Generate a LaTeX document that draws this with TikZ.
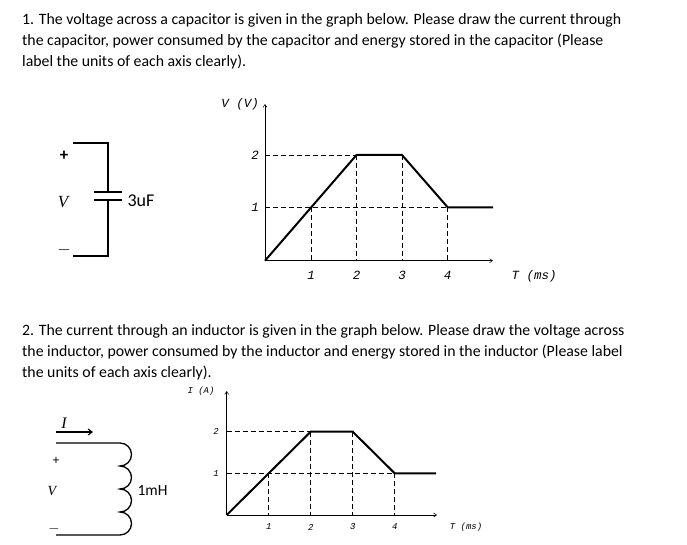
\documentclass[tikz,border=0pt]{standalone}
\usepackage{fontspec}
\usetikzlibrary{arrows.meta}
\setmainfont{Carlito}
\newfontfamily\monoit{Liberation Mono}
\newfontfamily\serif{Liberation Serif}
\begin{document}
\begin{tikzpicture}[x=1pt,y=-1pt,
  para/.style={anchor=base west,inner sep=0,font=\fontsize{15.8}{17}\selectfont},
  ax/.style={line width=0.5pt,-{Straight Barb[length=3pt,width=4pt]}},
  guide/.style={line width=0.5pt,dash pattern=on 5pt off 3pt},
  curve/.style={line width=2pt},
  wire/.style={line width=1.3pt},
  lab/.style={font=\monoit\itshape\fontsize{12.5}{13}\selectfont,inner sep=0},
  labs/.style={font=\monoit\itshape\fontsize{9}{10}\selectfont,inner sep=0}]
\useasboundingbox (0,0) rectangle (687,545);
\node[para] (t1) at (22,25) {1. The voltage across a capacitor is given in the graph below. Please draw the current through};
\node[para] (t2) at (22,46) {the capacitor, power consumed by the capacitor and energy stored in the capacitor (Please};
\node[para] (t3) at (22,67) {label the units of each axis clearly).};
\node[para] (t4) at (22,335) {2. The current through an inductor is given in the graph below. Please draw the voltage across};
\node[para] (t5) at (22,356) {the inductor, power consumed by the inductor and energy stored in the inductor (Please label};
\node[para] (t6) at (22,377) {the units of each axis clearly).};
% capacitor
\coordinate (ct) at (73,143); \coordinate (cb) at (73,256);
\draw[wire] (ct) -- (108,143) -- (108,192);
\draw[wire] (cb) -- (108,256) -- (108,200);
\draw[wire] (94,192) -- (122,192); \draw[wire] (94,200) -- (122,200);
\node (cp) at (64,156) {\fontsize{17}{18}\selectfont\textbf{+}};
\node (cv) at (63,202) {\serif\itshape\fontsize{17}{18}\selectfont V};
\node (cm) at (64,250) {\fontsize{17}{18}\selectfont $-$};
\node[anchor=west] (cl) at (124,201) {\fontsize{18}{19}\selectfont 3uF};
% graph 1
\coordinate (o1) at (265,260.7);
\draw[ax] (o1) -- (493,260.7);
\draw[ax] (o1) -- (265,104);
\foreach \i/\x in {1/311,2/356.5,3/402,4/447.7}{
  \node[lab] at (\x,275) {\i};}
\node[lab] at (255,207.3) {1}; \node[lab] at (255,155) {2};
\draw[guide] (265,155) -- (402,155);
\draw[guide] (265,207.3) -- (447.7,207.3);
\foreach \x/\y in {311/207.3,356.5/155,402/155,447.7/207.3}{\draw[guide] (\x,\y) -- (\x,260.7);}
\draw[curve] (o1) -- (356.5,155) -- (402,155) -- (447.7,207.3) -- (493,207.3);
\node[lab] at (240,104) {V (V)};
\node[lab] at (534,276) {T (ms)};
% inductor
\draw[wire] (56,443) -- (120,443) arc(90:-90:11.5pt) arc(90:-90:11.5pt) arc(90:-90:11.5pt) arc(90:-90:11.5pt) -- (56,535);
\draw[line width=1.1pt,-{Straight Barb[length=4pt,width=6pt]}] (56,432) -- (93,432);
\node (iI) at (64,423) {\serif\itshape\fontsize{16}{17}\selectfont I};
\node (ip) at (56,461) {\fontsize{13}{14}\selectfont +};
\node (iv) at (52,491) {\serif\itshape\fontsize{14}{15}\selectfont V};
\node (im) at (54,529) {\fontsize{15}{16}\selectfont $-$};
\node[anchor=west] (il) at (134,491) {\fontsize{15.5}{16}\selectfont 1mH};
% graph 2
\coordinate (o2) at (226.7,515);
\draw[ax] (o2) -- (437,515);
\draw[ax] (o2) -- (226.7,391);
\foreach \i/\x in {1/268.7,2/310.7,3/352.7,4/394.7}{
  \node[labs] at (\x,527) {\i};}
\node[labs] at (216,473.3) {1}; \node[labs] at (216,431.7) {2};
\draw[guide] (226.7,431.7) -- (352.7,431.7);
\draw[guide] (226.7,473.3) -- (394.7,473.3);
\foreach \x/\y in {268.7/473.3,310.7/431.7,352.7/431.7,394.7/473.3}{\draw[guide] (\x,\y) -- (\x,515);}
\draw[curve] (o2) -- (310.7,431.7) -- (352.7,431.7) -- (394.7,473.3) -- (436,473.3);
\node[labs] at (201,391) {I (A)};
\node[labs] at (466,527) {T (ms)};
\end{tikzpicture}
\end{document}
